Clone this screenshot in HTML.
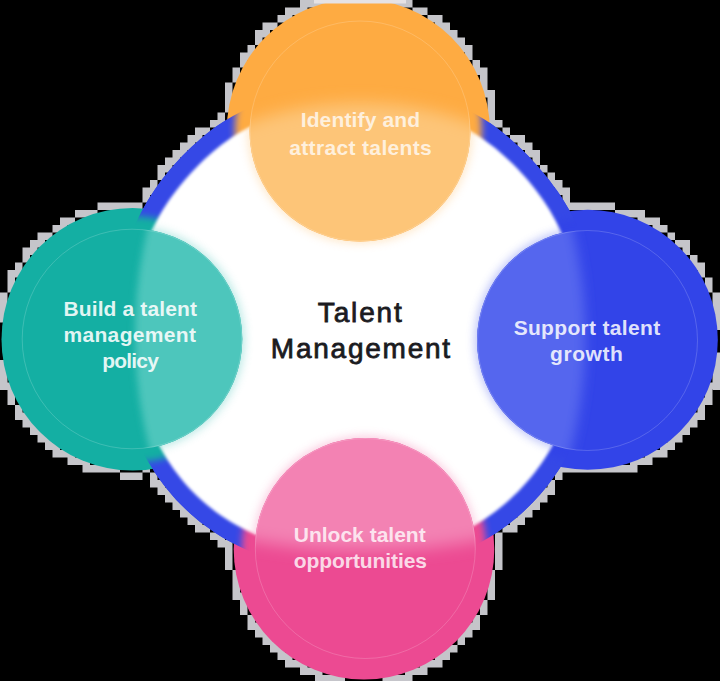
<!DOCTYPE html>
<html lang="en">
<head>
<meta charset="utf-8">
<title>Talent Management</title>
<style>
html,body{margin:0;padding:0;background:#000;}
body{width:720px;height:681px;overflow:hidden;font-family:"Liberation Sans",sans-serif;}
svg{display:block;}
.lbl{font-family:"Liberation Sans",sans-serif;font-weight:700;font-size:21px;fill:#fff;text-anchor:middle;}
.ttl{font-family:"Liberation Sans",sans-serif;font-weight:400;font-size:28px;fill:#1b1b1f;stroke:#1b1b1f;stroke-width:.8;text-anchor:middle;}
</style>
</head>
<body>
<svg width="720" height="681" viewBox="0 0 720 681">
<defs>
<filter id="b2" x="-10%" y="-10%" width="120%" height="120%"><feGaussianBlur stdDeviation="1.6"/></filter>
<filter id="b6" x="-20%" y="-20%" width="140%" height="140%"><feGaussianBlur stdDeviation="5"/></filter>
<filter id="b10" x="-30%" y="-30%" width="160%" height="160%"><feGaussianBlur stdDeviation="9"/></filter>
<clipPath id="co"><circle cx="360" cy="131" r="110.5"/></clipPath>
<filter id="fo" filterUnits="userSpaceOnUse" x="-100" y="-100" width="920" height="881"><feGaussianBlur stdDeviation="8"/></filter>
<clipPath id="ct"><circle cx="132" cy="339" r="110.3"/></clipPath>
<filter id="ft" filterUnits="userSpaceOnUse" x="-100" y="-100" width="920" height="881"><feGaussianBlur stdDeviation="3.5"/></filter>
<clipPath id="cb"><circle cx="587.5" cy="340.5" r="110.5"/></clipPath>
<filter id="fb" filterUnits="userSpaceOnUse" x="-100" y="-100" width="920" height="881"><feGaussianBlur stdDeviation="6"/></filter>
<clipPath id="cp"><circle cx="365.3" cy="548.5" r="110.5"/></clipPath>
<filter id="fp" filterUnits="userSpaceOnUse" x="-100" y="-100" width="920" height="881"><feGaussianBlur stdDeviation="8"/></filter>
<mask id="mring" maskUnits="userSpaceOnUse" x="0" y="0" width="720" height="681"><rect width="720" height="681" fill="#fff"/><g filter="url(#b35)"><circle cx="358.3" cy="130.3" r="123.5" fill="#000"/><circle cx="132.7" cy="339.3" r="123.19999999999999" fill="#000"/><circle cx="587.8" cy="339.8" r="122" fill="#000"/><circle cx="364" cy="549.2" r="122.30000000000001" fill="#000"/></g></mask>
<filter id="b35" filterUnits="userSpaceOnUse" x="-50" y="-50" width="820" height="781"><feGaussianBlur stdDeviation="3.5"/></filter>
<clipPath id="cw"><rect x="139" y="110.2" width="434.2" height="438.2" rx="190.8" ry="190.8"/></clipPath>
</defs>
<rect width="720" height="681" fill="#000"/>
<path fill="#dadae0" fill-opacity=".9" d="M300 0h7.5v7.5h-7.5zM307.5 0h7.5v7.5h-7.5zM315 0h7.5v7.5h-7.5zM322.5 0h7.5v7.5h-7.5zM390 0h7.5v7.5h-7.5zM397.5 0h7.5v7.5h-7.5zM405 0h7.5v7.5h-7.5zM285 7.5h7.5v7.5h-7.5zM292.5 7.5h7.5v7.5h-7.5zM300 7.5h7.5v7.5h-7.5zM412.5 7.5h7.5v7.5h-7.5zM420 7.5h7.5v7.5h-7.5zM277.5 15h7.5v7.5h-7.5zM285 15h7.5v7.5h-7.5zM427.5 15h7.5v7.5h-7.5zM435 15h7.5v7.5h-7.5zM262.5 22.5h7.5v7.5h-7.5zM270 22.5h7.5v7.5h-7.5zM435 22.5h7.5v7.5h-7.5zM442.5 22.5h7.5v7.5h-7.5zM255 30h7.5v7.5h-7.5zM262.5 30h7.5v7.5h-7.5zM442.5 30h7.5v7.5h-7.5zM450 30h7.5v7.5h-7.5zM255 37.5h7.5v7.5h-7.5zM450 37.5h7.5v7.5h-7.5zM457.5 37.5h7.5v7.5h-7.5zM247.5 45h7.5v7.5h-7.5zM457.5 45h7.5v7.5h-7.5zM465 45h7.5v7.5h-7.5zM240 52.5h7.5v7.5h-7.5zM247.5 52.5h7.5v7.5h-7.5zM465 52.5h7.5v7.5h-7.5zM240 60h7.5v7.5h-7.5zM472.5 60h7.5v7.5h-7.5zM232.5 67.5h7.5v7.5h-7.5zM472.5 67.5h7.5v7.5h-7.5zM480 67.5h7.5v7.5h-7.5zM232.5 75h7.5v7.5h-7.5zM480 75h7.5v7.5h-7.5zM225 82.5h7.5v7.5h-7.5zM480 82.5h7.5v7.5h-7.5zM225 90h7.5v7.5h-7.5zM480 90h7.5v7.5h-7.5zM487.5 90h7.5v7.5h-7.5zM225 97.5h7.5v7.5h-7.5zM487.5 97.5h7.5v7.5h-7.5zM225 105h7.5v7.5h-7.5zM487.5 105h7.5v7.5h-7.5zM217.5 112.5h7.5v7.5h-7.5zM487.5 112.5h7.5v7.5h-7.5zM210 120h7.5v7.5h-7.5zM217.5 120h7.5v7.5h-7.5zM487.5 120h7.5v7.5h-7.5zM495 120h7.5v7.5h-7.5zM195 127.5h7.5v7.5h-7.5zM202.5 127.5h7.5v7.5h-7.5zM502.5 127.5h7.5v7.5h-7.5zM187.5 135h7.5v7.5h-7.5zM195 135h7.5v7.5h-7.5zM510 135h7.5v7.5h-7.5zM517.5 135h7.5v7.5h-7.5zM180 142.5h7.5v7.5h-7.5zM187.5 142.5h7.5v7.5h-7.5zM517.5 142.5h7.5v7.5h-7.5zM525 142.5h7.5v7.5h-7.5zM172.5 150h7.5v7.5h-7.5zM180 150h7.5v7.5h-7.5zM525 150h7.5v7.5h-7.5zM532.5 150h7.5v7.5h-7.5zM165 157.5h7.5v7.5h-7.5zM172.5 157.5h7.5v7.5h-7.5zM532.5 157.5h7.5v7.5h-7.5zM157.5 165h7.5v7.5h-7.5zM165 165h7.5v7.5h-7.5zM540 165h7.5v7.5h-7.5zM157.5 172.5h7.5v7.5h-7.5zM547.5 172.5h7.5v7.5h-7.5zM150 180h7.5v7.5h-7.5zM547.5 180h7.5v7.5h-7.5zM555 180h7.5v7.5h-7.5zM142.5 187.5h7.5v7.5h-7.5zM150 187.5h7.5v7.5h-7.5zM555 187.5h7.5v7.5h-7.5zM562.5 187.5h7.5v7.5h-7.5zM142.5 195h7.5v7.5h-7.5zM562.5 195h7.5v7.5h-7.5zM97.5 202.5h7.5v7.5h-7.5zM105 202.5h7.5v7.5h-7.5zM112.5 202.5h7.5v7.5h-7.5zM120 202.5h7.5v7.5h-7.5zM127.5 202.5h7.5v7.5h-7.5zM135 202.5h7.5v7.5h-7.5zM562.5 202.5h7.5v7.5h-7.5zM570 202.5h7.5v7.5h-7.5zM577.5 202.5h7.5v7.5h-7.5zM585 202.5h7.5v7.5h-7.5zM592.5 202.5h7.5v7.5h-7.5zM600 202.5h7.5v7.5h-7.5zM607.5 202.5h7.5v7.5h-7.5zM75 210h7.5v7.5h-7.5zM82.5 210h7.5v7.5h-7.5zM90 210h7.5v7.5h-7.5zM615 210h7.5v7.5h-7.5zM622.5 210h7.5v7.5h-7.5zM630 210h7.5v7.5h-7.5zM637.5 210h7.5v7.5h-7.5zM60 217.5h7.5v7.5h-7.5zM67.5 217.5h7.5v7.5h-7.5zM637.5 217.5h7.5v7.5h-7.5zM645 217.5h7.5v7.5h-7.5zM652.5 217.5h7.5v7.5h-7.5zM52.5 225h7.5v7.5h-7.5zM60 225h7.5v7.5h-7.5zM652.5 225h7.5v7.5h-7.5zM660 225h7.5v7.5h-7.5zM37.5 232.5h7.5v7.5h-7.5zM45 232.5h7.5v7.5h-7.5zM667.5 232.5h7.5v7.5h-7.5zM30 240h7.5v7.5h-7.5zM37.5 240h7.5v7.5h-7.5zM675 240h7.5v7.5h-7.5zM682.5 240h7.5v7.5h-7.5zM22.5 247.5h7.5v7.5h-7.5zM30 247.5h7.5v7.5h-7.5zM682.5 247.5h7.5v7.5h-7.5zM22.5 255h7.5v7.5h-7.5zM690 255h7.5v7.5h-7.5zM15 262.5h7.5v7.5h-7.5zM690 262.5h7.5v7.5h-7.5zM697.5 262.5h7.5v7.5h-7.5zM7.5 270h7.5v7.5h-7.5zM15 270h7.5v7.5h-7.5zM697.5 270h7.5v7.5h-7.5zM7.5 277.5h7.5v7.5h-7.5zM705 277.5h7.5v7.5h-7.5zM7.5 285h7.5v7.5h-7.5zM705 285h7.5v7.5h-7.5zM0 292.5h7.5v7.5h-7.5zM712.5 292.5h7.5v7.5h-7.5zM0 300h7.5v7.5h-7.5zM712.5 300h7.5v7.5h-7.5zM0 307.5h7.5v7.5h-7.5zM712.5 307.5h7.5v7.5h-7.5zM0 315h7.5v7.5h-7.5zM712.5 315h7.5v7.5h-7.5zM712.5 322.5h7.5v7.5h-7.5zM712.5 352.5h7.5v7.5h-7.5zM0 360h7.5v7.5h-7.5zM712.5 360h7.5v7.5h-7.5zM0 367.5h7.5v7.5h-7.5zM712.5 367.5h7.5v7.5h-7.5zM0 375h7.5v7.5h-7.5zM712.5 375h7.5v7.5h-7.5zM0 382.5h7.5v7.5h-7.5zM7.5 382.5h7.5v7.5h-7.5zM705 382.5h7.5v7.5h-7.5zM712.5 382.5h7.5v7.5h-7.5zM7.5 390h7.5v7.5h-7.5zM705 390h7.5v7.5h-7.5zM7.5 397.5h7.5v7.5h-7.5zM697.5 397.5h7.5v7.5h-7.5zM705 397.5h7.5v7.5h-7.5zM15 405h7.5v7.5h-7.5zM697.5 405h7.5v7.5h-7.5zM15 412.5h7.5v7.5h-7.5zM22.5 412.5h7.5v7.5h-7.5zM690 412.5h7.5v7.5h-7.5zM697.5 412.5h7.5v7.5h-7.5zM22.5 420h7.5v7.5h-7.5zM30 420h7.5v7.5h-7.5zM682.5 420h7.5v7.5h-7.5zM690 420h7.5v7.5h-7.5zM30 427.5h7.5v7.5h-7.5zM37.5 427.5h7.5v7.5h-7.5zM675 427.5h7.5v7.5h-7.5zM682.5 427.5h7.5v7.5h-7.5zM37.5 435h7.5v7.5h-7.5zM45 435h7.5v7.5h-7.5zM667.5 435h7.5v7.5h-7.5zM675 435h7.5v7.5h-7.5zM45 442.5h7.5v7.5h-7.5zM52.5 442.5h7.5v7.5h-7.5zM660 442.5h7.5v7.5h-7.5zM667.5 442.5h7.5v7.5h-7.5zM52.5 450h7.5v7.5h-7.5zM60 450h7.5v7.5h-7.5zM67.5 450h7.5v7.5h-7.5zM645 450h7.5v7.5h-7.5zM652.5 450h7.5v7.5h-7.5zM660 450h7.5v7.5h-7.5zM67.5 457.5h7.5v7.5h-7.5zM75 457.5h7.5v7.5h-7.5zM82.5 457.5h7.5v7.5h-7.5zM630 457.5h7.5v7.5h-7.5zM637.5 457.5h7.5v7.5h-7.5zM645 457.5h7.5v7.5h-7.5zM82.5 465h7.5v7.5h-7.5zM90 465h7.5v7.5h-7.5zM97.5 465h7.5v7.5h-7.5zM105 465h7.5v7.5h-7.5zM112.5 465h7.5v7.5h-7.5zM142.5 465h7.5v7.5h-7.5zM555 465h7.5v7.5h-7.5zM562.5 465h7.5v7.5h-7.5zM570 465h7.5v7.5h-7.5zM577.5 465h7.5v7.5h-7.5zM585 465h7.5v7.5h-7.5zM592.5 465h7.5v7.5h-7.5zM600 465h7.5v7.5h-7.5zM607.5 465h7.5v7.5h-7.5zM615 465h7.5v7.5h-7.5zM622.5 465h7.5v7.5h-7.5zM630 465h7.5v7.5h-7.5zM120 472.5h7.5v7.5h-7.5zM127.5 472.5h7.5v7.5h-7.5zM135 472.5h7.5v7.5h-7.5zM150 472.5h7.5v7.5h-7.5zM555 472.5h7.5v7.5h-7.5zM150 480h7.5v7.5h-7.5zM157.5 480h7.5v7.5h-7.5zM547.5 480h7.5v7.5h-7.5zM157.5 487.5h7.5v7.5h-7.5zM165 487.5h7.5v7.5h-7.5zM540 487.5h7.5v7.5h-7.5zM547.5 487.5h7.5v7.5h-7.5zM165 495h7.5v7.5h-7.5zM172.5 495h7.5v7.5h-7.5zM532.5 495h7.5v7.5h-7.5zM540 495h7.5v7.5h-7.5zM172.5 502.5h7.5v7.5h-7.5zM180 502.5h7.5v7.5h-7.5zM525 502.5h7.5v7.5h-7.5zM532.5 502.5h7.5v7.5h-7.5zM180 510h7.5v7.5h-7.5zM187.5 510h7.5v7.5h-7.5zM517.5 510h7.5v7.5h-7.5zM525 510h7.5v7.5h-7.5zM187.5 517.5h7.5v7.5h-7.5zM195 517.5h7.5v7.5h-7.5zM510 517.5h7.5v7.5h-7.5zM517.5 517.5h7.5v7.5h-7.5zM195 525h7.5v7.5h-7.5zM202.5 525h7.5v7.5h-7.5zM502.5 525h7.5v7.5h-7.5zM510 525h7.5v7.5h-7.5zM210 532.5h7.5v7.5h-7.5zM217.5 532.5h7.5v7.5h-7.5zM495 532.5h7.5v7.5h-7.5zM217.5 540h7.5v7.5h-7.5zM225 540h7.5v7.5h-7.5zM495 540h7.5v7.5h-7.5zM225 547.5h7.5v7.5h-7.5zM495 547.5h7.5v7.5h-7.5zM225 555h7.5v7.5h-7.5zM495 555h7.5v7.5h-7.5zM225 562.5h7.5v7.5h-7.5zM495 562.5h7.5v7.5h-7.5zM232.5 570h7.5v7.5h-7.5zM487.5 570h7.5v7.5h-7.5zM232.5 577.5h7.5v7.5h-7.5zM487.5 577.5h7.5v7.5h-7.5zM232.5 585h7.5v7.5h-7.5zM487.5 585h7.5v7.5h-7.5zM232.5 592.5h7.5v7.5h-7.5zM240 592.5h7.5v7.5h-7.5zM487.5 592.5h7.5v7.5h-7.5zM240 600h7.5v7.5h-7.5zM480 600h7.5v7.5h-7.5zM240 607.5h7.5v7.5h-7.5zM480 607.5h7.5v7.5h-7.5zM247.5 615h7.5v7.5h-7.5zM472.5 615h7.5v7.5h-7.5zM247.5 622.5h7.5v7.5h-7.5zM255 622.5h7.5v7.5h-7.5zM465 622.5h7.5v7.5h-7.5zM472.5 622.5h7.5v7.5h-7.5zM255 630h7.5v7.5h-7.5zM262.5 630h7.5v7.5h-7.5zM457.5 630h7.5v7.5h-7.5zM465 630h7.5v7.5h-7.5zM262.5 637.5h7.5v7.5h-7.5zM270 637.5h7.5v7.5h-7.5zM457.5 637.5h7.5v7.5h-7.5zM270 645h7.5v7.5h-7.5zM277.5 645h7.5v7.5h-7.5zM442.5 645h7.5v7.5h-7.5zM450 645h7.5v7.5h-7.5zM277.5 652.5h7.5v7.5h-7.5zM285 652.5h7.5v7.5h-7.5zM435 652.5h7.5v7.5h-7.5zM442.5 652.5h7.5v7.5h-7.5zM285 660h7.5v7.5h-7.5zM292.5 660h7.5v7.5h-7.5zM300 660h7.5v7.5h-7.5zM420 660h7.5v7.5h-7.5zM427.5 660h7.5v7.5h-7.5zM435 660h7.5v7.5h-7.5zM300 667.5h7.5v7.5h-7.5zM307.5 667.5h7.5v7.5h-7.5zM315 667.5h7.5v7.5h-7.5zM405 667.5h7.5v7.5h-7.5zM412.5 667.5h7.5v7.5h-7.5zM420 667.5h7.5v7.5h-7.5zM315 675h7.5v7.5h-7.5zM322.5 675h7.5v7.5h-7.5zM330 675h7.5v7.5h-7.5zM337.5 675h7.5v7.5h-7.5zM382.5 675h7.5v7.5h-7.5zM390 675h7.5v7.5h-7.5zM397.5 675h7.5v7.5h-7.5zM405 675h7.5v7.5h-7.5z"/>
<path fill="#3548E6" d="M591.7 329.3L591.7 335.5L591.7 341.6L591.7 347.8L591.7 354.1L591.7 360.3L591.5 366.6L591.1 372.9L590.6 379.1L589.8 385.4L588.9 391.7L587.8 397.9L586.5 404.1L584.9 410.3L583.2 416.5L581.3 422.6L579.3 428.7L577.0 434.6L574.5 440.6L571.8 446.4L568.9 452.2L565.9 457.9L562.7 463.4L559.3 468.9L555.7 474.3L552.0 479.6L548.1 484.8L544.1 489.8L539.9 494.8L535.5 499.6L531.0 504.2L526.4 508.8L521.7 513.2L516.8 517.5L511.8 521.6L506.7 525.5L501.4 529.3L496.1 533.0L490.6 536.5L485.1 539.8L479.4 542.9L473.7 545.8L467.8 548.6L461.9 551.2L455.9 553.5L449.9 555.7L443.8 557.7L437.6 559.5L431.4 561.1L425.2 562.5L418.9 563.7L412.6 564.7L406.3 565.5L400.0 566.2L393.7 566.6L387.4 566.8L381.1 566.9L374.8 566.9L368.6 566.9L362.3 566.9L356.1 566.9L349.9 566.9L343.6 566.9L337.4 566.9L331.1 566.9L324.8 566.8L318.5 566.6L312.2 566.2L305.9 565.5L299.6 564.7L293.3 563.7L287.0 562.5L280.8 561.1L274.6 559.5L268.4 557.7L262.3 555.7L256.3 553.6L250.3 551.2L244.3 548.7L238.5 545.9L232.7 543.0L227.0 539.9L221.4 536.7L215.9 533.2L210.6 529.6L205.3 525.8L200.1 521.9L195.1 517.8L190.2 513.5L185.4 509.1L180.8 504.6L176.3 499.9L172.0 495.1L167.8 490.1L163.8 485.0L159.9 479.8L156.2 474.5L152.7 469.1L149.3 463.6L146.1 458.0L143.1 452.3L140.3 446.5L137.7 440.6L135.2 434.7L132.9 428.7L130.8 422.6L129.0 416.5L127.3 410.3L125.7 404.1L124.4 397.9L123.3 391.7L122.4 385.4L121.6 379.1L121.1 372.9L120.7 366.6L120.5 360.3L120.5 354.1L120.5 347.8L120.5 341.6L120.5 335.5L120.5 329.3L120.5 323.1L120.5 317.0L120.5 310.8L120.5 304.5L120.5 298.3L120.7 292.0L121.1 285.7L121.6 279.5L122.4 273.2L123.3 266.9L124.4 260.7L125.7 254.5L127.3 248.3L129.0 242.1L131.0 236.0L133.2 230.0L135.6 224.1L138.2 218.3L141.0 212.5L144.1 206.9L147.3 201.3L150.6 195.9L154.2 190.5L157.8 185.3L161.6 180.1L165.6 175.0L169.7 170.1L173.8 165.2L178.1 160.4L182.5 155.7L187.1 151.2L191.7 146.7L196.5 142.4L201.3 138.2L206.3 134.1L211.4 130.1L216.6 126.3L221.9 122.7L227.4 119.3L233.0 116.0L238.6 112.9L244.4 110.1L250.3 107.5L256.3 105.1L262.3 102.9L268.4 100.9L274.6 99.1L280.8 97.5L287.0 96.1L293.3 94.9L299.6 93.9L305.9 93.1L312.2 92.4L318.5 92.0L324.8 91.8L331.1 91.7L337.4 91.7L343.6 91.7L349.9 91.7L356.1 91.7L362.3 91.7L368.6 91.7L374.8 91.7L381.1 91.7L387.4 91.8L393.7 92.0L400.0 92.4L406.3 93.1L412.6 93.9L418.9 94.9L425.2 96.1L431.4 97.5L437.6 99.1L443.8 100.9L449.9 102.9L455.9 105.1L461.9 107.5L467.8 110.2L473.5 113.1L479.1 116.2L484.6 119.6L490.0 123.1L495.2 126.8L500.4 130.7L505.4 134.8L510.3 138.9L515.0 143.2L519.7 147.6L524.3 152.1L528.8 156.6L533.1 161.3L537.4 166.1L541.6 170.9L545.7 175.8L549.7 180.8L553.5 185.9L557.3 191.0L560.9 196.3L564.3 201.7L567.6 207.2L570.8 212.7L573.7 218.4L576.4 224.2L578.9 230.1L581.2 236.1L583.2 242.1L584.9 248.3L586.5 254.5L587.8 260.7L588.9 266.9L589.8 273.2L590.6 279.5L591.1 285.7L591.5 292.0L591.7 298.3L591.7 304.5L591.7 310.8L591.7 317.0L591.7 323.1Z"/>
<circle cx="358.3" cy="130.3" r="131.5" fill="#FEAB42"/>
<circle cx="132.7" cy="339.3" r="131.2" fill="#14AFA3"/>
<circle cx="587.8" cy="339.8" r="130" fill="#3244E8"/>
<circle cx="364" cy="549.2" r="130.3" fill="#EC4A92"/>
<path fill="#3548E6" mask="url(#mring)" d="M591.7 329.3L591.7 335.5L591.7 341.6L591.7 347.8L591.7 354.1L591.7 360.3L591.5 366.6L591.1 372.9L590.6 379.1L589.8 385.4L588.9 391.7L587.8 397.9L586.5 404.1L584.9 410.3L583.2 416.5L581.3 422.6L579.3 428.7L577.0 434.6L574.5 440.6L571.8 446.4L568.9 452.2L565.9 457.9L562.7 463.4L559.3 468.9L555.7 474.3L552.0 479.6L548.1 484.8L544.1 489.8L539.9 494.8L535.5 499.6L531.0 504.2L526.4 508.8L521.7 513.2L516.8 517.5L511.8 521.6L506.7 525.5L501.4 529.3L496.1 533.0L490.6 536.5L485.1 539.8L479.4 542.9L473.7 545.8L467.8 548.6L461.9 551.2L455.9 553.5L449.9 555.7L443.8 557.7L437.6 559.5L431.4 561.1L425.2 562.5L418.9 563.7L412.6 564.7L406.3 565.5L400.0 566.2L393.7 566.6L387.4 566.8L381.1 566.9L374.8 566.9L368.6 566.9L362.3 566.9L356.1 566.9L349.9 566.9L343.6 566.9L337.4 566.9L331.1 566.9L324.8 566.8L318.5 566.6L312.2 566.2L305.9 565.5L299.6 564.7L293.3 563.7L287.0 562.5L280.8 561.1L274.6 559.5L268.4 557.7L262.3 555.7L256.3 553.6L250.3 551.2L244.3 548.7L238.5 545.9L232.7 543.0L227.0 539.9L221.4 536.7L215.9 533.2L210.6 529.6L205.3 525.8L200.1 521.9L195.1 517.8L190.2 513.5L185.4 509.1L180.8 504.6L176.3 499.9L172.0 495.1L167.8 490.1L163.8 485.0L159.9 479.8L156.2 474.5L152.7 469.1L149.3 463.6L146.1 458.0L143.1 452.3L140.3 446.5L137.7 440.6L135.2 434.7L132.9 428.7L130.8 422.6L129.0 416.5L127.3 410.3L125.7 404.1L124.4 397.9L123.3 391.7L122.4 385.4L121.6 379.1L121.1 372.9L120.7 366.6L120.5 360.3L120.5 354.1L120.5 347.8L120.5 341.6L120.5 335.5L120.5 329.3L120.5 323.1L120.5 317.0L120.5 310.8L120.5 304.5L120.5 298.3L120.7 292.0L121.1 285.7L121.6 279.5L122.4 273.2L123.3 266.9L124.4 260.7L125.7 254.5L127.3 248.3L129.0 242.1L131.0 236.0L133.2 230.0L135.6 224.1L138.2 218.3L141.0 212.5L144.1 206.9L147.3 201.3L150.6 195.9L154.2 190.5L157.8 185.3L161.6 180.1L165.6 175.0L169.7 170.1L173.8 165.2L178.1 160.4L182.5 155.7L187.1 151.2L191.7 146.7L196.5 142.4L201.3 138.2L206.3 134.1L211.4 130.1L216.6 126.3L221.9 122.7L227.4 119.3L233.0 116.0L238.6 112.9L244.4 110.1L250.3 107.5L256.3 105.1L262.3 102.9L268.4 100.9L274.6 99.1L280.8 97.5L287.0 96.1L293.3 94.9L299.6 93.9L305.9 93.1L312.2 92.4L318.5 92.0L324.8 91.8L331.1 91.7L337.4 91.7L343.6 91.7L349.9 91.7L356.1 91.7L362.3 91.7L368.6 91.7L374.8 91.7L381.1 91.7L387.4 91.8L393.7 92.0L400.0 92.4L406.3 93.1L412.6 93.9L418.9 94.9L425.2 96.1L431.4 97.5L437.6 99.1L443.8 100.9L449.9 102.9L455.9 105.1L461.9 107.5L467.8 110.2L473.5 113.1L479.1 116.2L484.6 119.6L490.0 123.1L495.2 126.8L500.4 130.7L505.4 134.8L510.3 138.9L515.0 143.2L519.7 147.6L524.3 152.1L528.8 156.6L533.1 161.3L537.4 166.1L541.6 170.9L545.7 175.8L549.7 180.8L553.5 185.9L557.3 191.0L560.9 196.3L564.3 201.7L567.6 207.2L570.8 212.7L573.7 218.4L576.4 224.2L578.9 230.1L581.2 236.1L583.2 242.1L584.9 248.3L586.5 254.5L587.8 260.7L588.9 266.9L589.8 273.2L590.6 279.5L591.1 285.7L591.5 292.0L591.7 298.3L591.7 304.5L591.7 310.8L591.7 317.0L591.7 323.1Z"/>
<rect x="314" y="0" width="92" height="3.5" fill="#e6e2e4"/>
<path fill="#fff" filter="url(#b2)" d="M574.2 329.3L574.2 335.0L574.2 340.7L574.2 346.5L574.2 352.2L574.2 358.0L574.1 363.8L573.8 369.7L573.4 375.5L572.7 381.3L571.9 387.1L570.9 392.9L569.7 398.7L568.4 404.5L566.8 410.2L565.1 415.9L563.2 421.5L561.1 427.1L558.8 432.6L556.3 438.0L553.6 443.3L550.7 448.6L547.7 453.7L544.5 458.8L541.2 463.7L537.7 468.6L534.0 473.4L530.3 478.0L526.4 482.6L522.3 487.0L518.2 491.4L513.9 495.6L509.5 499.7L505.0 503.7L500.4 507.5L495.7 511.2L490.9 514.8L485.9 518.2L480.9 521.5L475.8 524.6L470.5 527.5L465.2 530.3L459.8 532.9L454.3 535.3L448.8 537.5L443.2 539.5L437.5 541.3L431.8 542.9L426.0 544.4L420.2 545.6L414.4 546.7L408.5 547.6L402.7 548.3L396.8 548.9L390.9 549.2L385.1 549.4L379.2 549.4L373.4 549.4L367.6 549.4L361.9 549.4L356.1 549.4L350.3 549.4L344.6 549.4L338.8 549.4L333.0 549.4L327.1 549.4L321.3 549.2L315.4 548.9L309.5 548.3L303.7 547.6L297.8 546.7L292.0 545.6L286.2 544.4L280.4 542.9L274.7 541.3L269.0 539.5L263.4 537.5L257.8 535.4L252.3 533.0L246.8 530.5L241.5 527.8L236.2 525.0L231.0 522.0L225.9 518.8L220.9 515.5L215.9 512.0L211.2 508.3L206.5 504.5L201.9 500.5L197.5 496.4L193.2 492.2L189.0 487.9L185.0 483.4L181.1 478.8L177.4 474.0L173.8 469.2L170.4 464.2L167.1 459.2L164.0 454.0L161.1 448.8L158.3 443.5L155.7 438.1L153.3 432.6L151.0 427.1L149.0 421.5L147.1 415.9L145.4 410.2L143.8 404.5L142.5 398.7L141.3 392.9L140.3 387.1L139.5 381.3L138.8 375.5L138.4 369.7L138.1 363.8L138.0 358.0L138.0 352.2L138.0 346.5L138.0 340.7L138.0 335.0L138.0 329.3L138.0 323.6L138.0 317.9L138.0 312.1L138.0 306.4L138.0 300.6L138.1 294.8L138.4 288.9L138.8 283.1L139.5 277.3L140.3 271.5L141.3 265.7L142.5 259.9L143.8 254.1L145.4 248.4L147.2 242.8L149.2 237.2L151.5 231.7L154.0 226.3L156.6 221.0L159.4 215.8L162.4 210.6L165.6 205.6L168.9 200.6L172.3 195.8L175.9 191.0L179.6 186.3L183.3 181.7L187.2 177.2L191.2 172.8L195.3 168.5L199.4 164.2L203.7 160.1L208.1 156.0L212.6 152.1L217.2 148.2L221.8 144.5L226.7 141.0L231.6 137.6L236.6 134.3L241.8 131.3L247.0 128.4L252.4 125.7L257.8 123.3L263.4 121.1L269.0 119.1L274.7 117.3L280.4 115.7L286.2 114.2L292.0 113.0L297.8 111.9L303.7 111.0L309.5 110.3L315.4 109.7L321.3 109.4L327.1 109.2L333.0 109.2L338.8 109.2L344.6 109.2L350.3 109.2L356.1 109.2L361.9 109.2L367.6 109.2L373.4 109.2L379.2 109.2L385.1 109.2L390.9 109.4L396.8 109.7L402.7 110.3L408.5 111.0L414.4 111.9L420.2 113.0L426.0 114.2L431.8 115.7L437.5 117.3L443.2 119.1L448.8 121.1L454.4 123.3L459.8 125.7L465.2 128.4L470.5 131.2L475.6 134.3L480.7 137.5L485.6 140.9L490.4 144.4L495.1 148.1L499.7 151.9L504.2 155.9L508.6 159.9L512.9 164.1L517.1 168.3L521.2 172.7L525.1 177.1L529.0 181.6L532.8 186.2L536.5 190.9L540.0 195.7L543.4 200.6L546.7 205.5L549.9 210.6L552.8 215.7L555.7 221.0L558.3 226.3L560.7 231.7L563.0 237.2L565.0 242.8L566.8 248.4L568.4 254.1L569.7 259.9L570.9 265.7L571.9 271.5L572.7 277.3L573.4 283.1L573.8 288.9L574.1 294.8L574.2 300.6L574.2 306.4L574.2 312.1L574.2 317.9L574.2 323.6Z"/>
<g clip-path="url(#cw)"><circle cx="360" cy="131" r="112.5" fill="#FDC578" opacity=".4" filter="url(#b6)"/></g>
<g clip-path="url(#cw)"><circle cx="132" cy="339" r="112.3" fill="#4EC6BC" opacity=".4" filter="url(#b6)"/></g>
<g clip-path="url(#cw)"><circle cx="587.5" cy="340.5" r="112.5" fill="#5466EE" opacity=".4" filter="url(#b6)"/></g>
<g clip-path="url(#cw)"><circle cx="365.3" cy="548.5" r="112.5" fill="#F382B3" opacity=".4" filter="url(#b6)"/></g>
<g clip-path="url(#co)"><circle cx="360" cy="131" r="111.5" fill="#FEAB42"/><circle cx="360" cy="428" r="325" fill="#FDC578" filter="url(#fo)"/></g>
<circle cx="360" cy="131" r="110.0" fill="none" stroke="#fff" stroke-opacity=".18" stroke-width="1"/>
<g clip-path="url(#ct)"><circle cx="132" cy="339" r="111.3" fill="#14AFA3"/><circle cx="590" cy="335" r="455" fill="#4EC6BC" filter="url(#ft)"/></g>
<circle cx="132" cy="339" r="109.8" fill="none" stroke="#fff" stroke-opacity=".18" stroke-width="1"/>
<g clip-path="url(#cb)"><circle cx="587.5" cy="340.5" r="111.5" fill="#3244E8"/><circle cx="140.5" cy="337" r="445" fill="#5466EE" filter="url(#fb)"/></g>
<circle cx="587.5" cy="340.5" r="110.0" fill="none" stroke="#fff" stroke-opacity=".18" stroke-width="1"/>
<g clip-path="url(#cp)"><circle cx="365.3" cy="548.5" r="111.5" fill="#EC4A92"/><circle cx="365" cy="-69" r="620" fill="#F382B3" filter="url(#fp)"/></g>
<circle cx="365.3" cy="548.5" r="110.0" fill="none" stroke="#fff" stroke-opacity=".18" stroke-width="1"/>
<text class="lbl" x="360.4" y="126.5" fill-opacity="0.76" textLength="119.5" lengthAdjust="spacing">Identify and</text>
<text class="lbl" x="360.5" y="155.2" fill-opacity="0.76" textLength="142.6" lengthAdjust="spacing">attract talents</text>
<text class="lbl" x="130.2" y="315.8" fill-opacity="0.88" textLength="133.5" lengthAdjust="spacing">Build a talent</text>
<text class="lbl" x="129.7" y="342" fill-opacity="0.88" textLength="132.5" lengthAdjust="spacing">management</text>
<text class="lbl" x="130.5" y="368.3" fill-opacity="0.88" textLength="56.7" lengthAdjust="spacing">policy</text>
<text class="lbl" x="586.9" y="334.5" fill-opacity="0.86" textLength="146.5" lengthAdjust="spacing">Support talent</text>
<text class="lbl" x="586.5" y="361.2" fill-opacity="0.86" textLength="72.8" lengthAdjust="spacing">growth</text>
<text class="lbl" x="359.7" y="541.8" fill-opacity="0.8" textLength="132" lengthAdjust="spacing">Unlock talent</text>
<text class="lbl" x="360.4" y="568.4" fill-opacity="0.8" textLength="133.2" lengthAdjust="spacing">opportunities</text>
<text class="ttl" x="359.8" y="322.2" textLength="84" lengthAdjust="spacing">Talent</text>
<text class="ttl" x="360.5" y="357.9" textLength="179.3" lengthAdjust="spacing">Management</text>
</svg>
</body>
</html>
